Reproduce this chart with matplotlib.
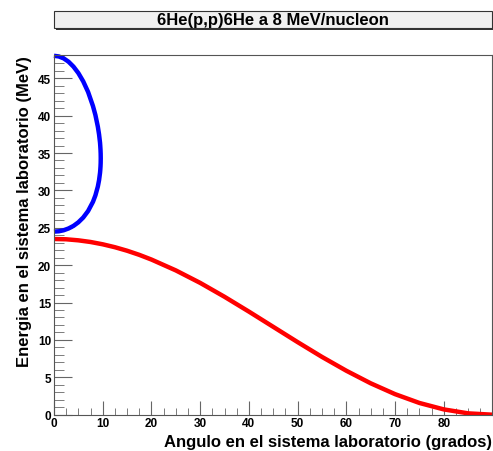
import matplotlib.pyplot as plt
from matplotlib.patches import Rectangle
from matplotlib.ticker import MultipleLocator

# protones de retroceso: angulo (grados) y energia (MeV)
ang_p = [0, 2.5, 5, 7.5, 10, 12.5, 15, 17.5, 20, 25, 30, 35, 40, 45, 50, 55,
         60, 65, 70, 75, 80, 85, 90]
ene_p = [23.5, 23.46, 23.32, 23.10, 22.79, 22.40, 21.93, 21.38, 20.75, 19.30,
         17.63, 15.77, 13.79, 11.75, 9.71, 7.73, 5.88, 4.20, 2.75, 1.57, 0.71,
         0.18, 0.0]

# 6He dispersado: rama alta y rama baja hasta el angulo maximo
ang_he = [0, 1, 2, 3, 4, 5, 6, 7, 8, 8.5, 9, 9.25, 9.45, 9.5, 9.55, 9.58, 9.594,
          9.58, 9.55, 9.5, 9.45, 9.25, 9, 8.5, 8, 7, 6, 5, 4, 3, 2, 1, 0]
ene_he = [48.0, 47.91, 47.65, 47.20, 46.55, 45.69, 44.58, 43.16, 41.28, 40.08,
          38.52, 37.49, 36.38, 35.94, 35.41, 34.91, 34.29,
          33.67, 33.20, 32.71, 32.35, 31.36, 30.51, 29.33, 28.47, 27.24, 26.37,
          25.73, 25.25, 24.91, 24.67, 24.53, 24.49]

plt.rcParams['font.family'] = ['Liberation Sans', 'DejaVu Sans']
plt.rcParams['font.weight'] = 'bold'

fig = plt.figure(figsize=(4.93, 4.52), dpi=100)
ax = fig.add_axes([0.1095, 0.0803, 0.8885, 0.7957])

ax.plot(ang_p, ene_p, color='#ff0000', lw=3.2, solid_capstyle='butt')
ax.plot(ang_he, ene_he, color='#0000ff', lw=3.2, solid_capstyle='butt', clip_on=False)

ax.set_xlim(0, 89.9)
ax.set_ylim(0, 48.1)
ax.xaxis.set_major_locator(MultipleLocator(10))
ax.xaxis.set_minor_locator(MultipleLocator(2.5))
ax.yaxis.set_major_locator(MultipleLocator(5))
ax.yaxis.set_minor_locator(MultipleLocator(1))
ax.tick_params(which='both', direction='in', top=False, right=False, color='#666666',
               labelsize=8.5, pad=2)
ax.tick_params(axis='x', which='major', length=10)
ax.tick_params(axis='x', which='minor', length=5)
ax.tick_params(axis='y', which='major', length=13)
ax.tick_params(axis='y', which='minor', length=7)
for lab in ax.get_xticklabels() + ax.get_yticklabels():
    lab.set_fontweight('bold')
for s in ax.spines.values():
    s.set_color('#555555')
    s.set_linewidth(0.8)

ax.set_xlabel('Angulo en el sistema laboratorio (grados)', fontsize=12,
              fontweight='bold', loc='right', labelpad=3)
ax.set_ylabel('Energia en el sistema laboratorio (MeV)', fontsize=12,
              fontweight='bold', loc='top', labelpad=4)

# caja del titulo con sombra
x0, y0, w, h = 0.1095, 0.936, 0.888, 0.0375
fig.patches.append(Rectangle((x0 + 0.004, y0 - 0.0045), w, h, transform=fig.transFigure,
                             facecolor='#333333', edgecolor='none', zorder=1))
fig.patches.append(Rectangle((x0, y0), w, h, transform=fig.transFigure,
                             facecolor='#f0f0f0', edgecolor='#333333', lw=0.8, zorder=2))
fig.text(x0 + w / 2, y0 + h / 2, '6He(p,p)6He a 8 MeV/nucleon', ha='center',
         va='center', fontsize=12, fontweight='bold', zorder=3)

fig.savefig('out.png', dpi=100)
